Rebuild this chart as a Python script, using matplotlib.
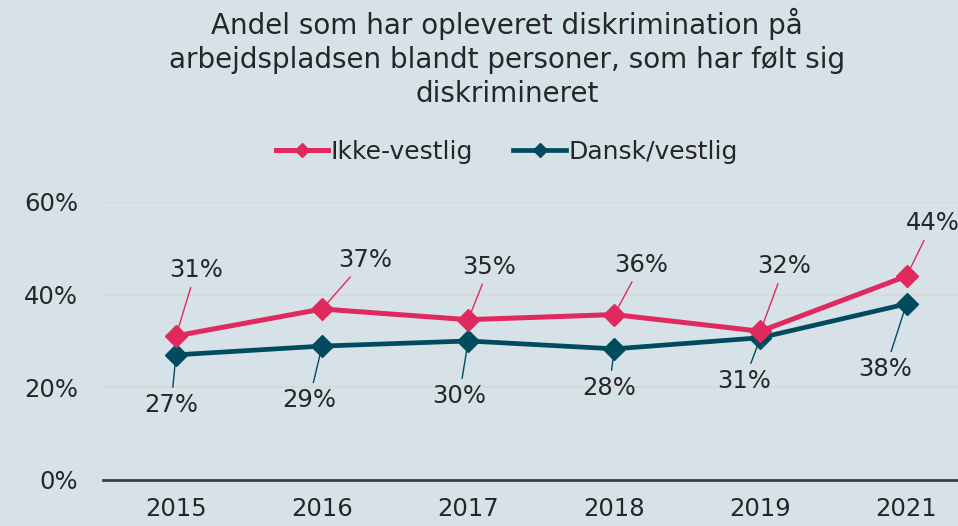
import matplotlib
matplotlib.use("Agg")
import matplotlib.pyplot as plt

# data
years = ["2015", "2016", "2017", "2018", "2019", "2021"]
ikke_vestlig = [31.1, 36.9, 34.6, 35.7, 32.1, 44.0]
dansk_vestlig = [27.0, 28.9, 30.0, 28.3, 30.7, 38.0]
ikke_labels = ["31%", "37%", "35%", "36%", "32%", "44%"]
dansk_labels = ["27%", "29%", "30%", "28%", "31%", "38%"]
yticks = [0, 20, 40, 60]

title = ("Andel som har opleveret diskrimination på\n"
         "arbejdspladsen blandt personer, som har følt sig\n"
         "diskrimineret")

bg = "#d6e2e7"
pink = "#e0295f"
teal = "#004b5e"
txt = "#262626"

plt.rcParams["font.family"] = ["DejaVu Sans"]

fig = plt.figure(figsize=(9.58, 5.26), dpi=100, facecolor=bg)
ax = fig.add_axes([0.1075, 0.0875, 0.915, 0.5285], facecolor=bg)

x = list(range(len(years)))
ax.plot(x, ikke_vestlig, color=pink, lw=3.6, marker="D", ms=11.5,
        label="Ikke-vestlig", zorder=4)
ax.plot(x, dansk_vestlig, color=teal, lw=3.4, marker="D", ms=11.5,
        label="Dansk/vestlig", zorder=3)

# label offsets (pixels) from each point
ikke_off = [(20, 66), (43, 49), (21, 53), (27, 50), (24, 65), (26, 53)]
dansk_off = [(-5, -50), (-13, -54), (-9, -55), (-5, -39), (-16, -43), (-21, -65)]

for xi, v, lab, off in zip(x, ikke_vestlig, ikke_labels, ikke_off):
    ax.annotate(lab, (xi, v), xytext=off, textcoords="offset pixels",
                ha="center", va="center", fontsize=17.5, color=txt,
                arrowprops=dict(arrowstyle="-", color=pink, lw=1,
                                shrinkA=2, shrinkB=2))
for xi, v, lab, off in zip(x, dansk_vestlig, dansk_labels, dansk_off):
    ax.annotate(lab, (xi, v), xytext=off, textcoords="offset pixels",
                ha="center", va="center", fontsize=17.5, color=txt,
                arrowprops=dict(arrowstyle="-", color=teal, lw=1,
                                shrinkA=2, shrinkB=2))

ax.set_xlim(-0.5, len(years) - 0.5)
ax.set_ylim(0, 60)
ax.set_yticks(yticks)
ax.set_yticklabels([f"{t}%" for t in yticks])
ax.set_xticks(x)
ax.set_xticklabels(years)
ax.tick_params(axis="both", length=0, labelsize=17.5, colors=txt)
ax.tick_params(axis="y", pad=18)
ax.tick_params(axis="x", pad=12)
ax.grid(axis="y", color="#d9d9d9", lw=1.5)
ax.set_axisbelow(True)
for s in ["top", "right", "left"]:
    ax.spines[s].set_visible(False)
ax.spines["bottom"].set_color("#404040")
ax.spines["bottom"].set_linewidth(2)
ax.spines["bottom"].set_zorder(5)

fig.text(0.529, 0.985, title, ha="center", va="top", fontsize=20,
         color=txt, linespacing=1.26)

fig.legend(loc="center", bbox_to_anchor=(0.529, 0.711), ncol=2,
           frameon=False, fontsize=18, handlelength=2.1, handletextpad=0.1,
           columnspacing=1.6, markerscale=0.6)
for t in fig.legends[0].get_texts():
    t.set_color(txt)

fig.savefig("out.png", dpi=100, facecolor=bg)
